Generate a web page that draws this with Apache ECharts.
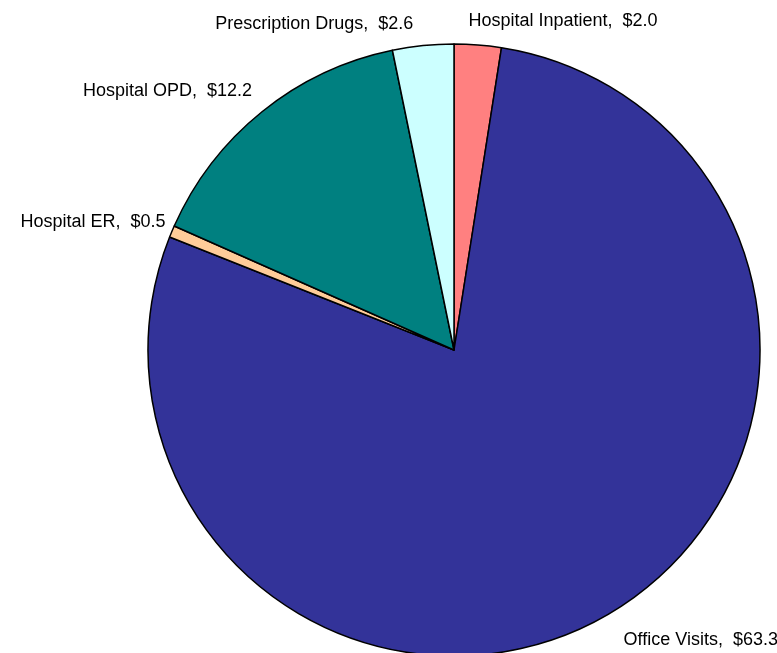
<!DOCTYPE html>
<html>
<head>
<meta charset="utf-8">
<script src="https://cdn.jsdelivr.net/npm/echarts@6/dist/echarts.min.js"></script>
<style>
  html, body { margin: 0; padding: 0; background: #fff; }
  #chart { width: 777px; height: 653px; }
</style>
</head>
<body>
<div id="chart"></div>
<script>
// slice names, clockwise from 12 o'clock
const categories = ['Hospital Inpatient', 'Office Visits', 'Hospital ER', 'Hospital OPD', 'Prescription Drugs'];
// spending values ($)
const values = [2.0, 63.3, 0.5, 12.2, 2.6];
const colors = ['#FF8080', '#333399', '#FFCC99', '#008080', '#CCFFFF'];
// label nudges [dx, dy] to match the original placement
const labelShift = [[-15, -16], [9, 17], [6, -6], [0, -14], [-4, -14]];

const chart = echarts.init(document.getElementById('chart'));

chart.setOption({
  animation: false,
  series: [
    {
      type: 'pie',
      center: [454, 350],
      radius: 306,
      startAngle: 90,
      clockwise: true,
      avoidLabelOverlap: false,
      data: categories.map((name, i) => ({
        name: name,
        value: values[i],
        itemStyle: { color: colors[i] }
      })),
      itemStyle: {
        borderColor: '#000',
        borderWidth: 1.5
      },
      label: {
        show: true,
        position: 'outside',
        fontFamily: 'Liberation Sans, Arial, sans-serif',
        fontSize: 18,
        color: '#000',
        formatter: p => p.name + ',  $' + p.value.toFixed(1)
      },
      labelLine: {
        show: false,
        length: 8,
        length2: 0
      },
      labelLayout: p => ({ dx: labelShift[p.dataIndex][0], dy: labelShift[p.dataIndex][1] }),
      emphasis: { disabled: true }
    }
  ]
});
</script>
</body>
</html>
